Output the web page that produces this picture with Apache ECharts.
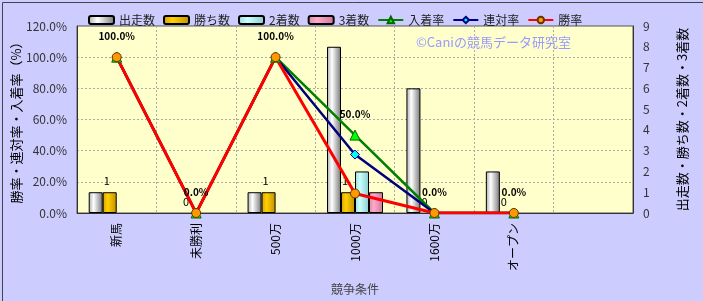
<!DOCTYPE html>
<html><head><meta charset="utf-8">
<script src="https://cdn.jsdelivr.net/npm/echarts@6/dist/echarts.min.js"></script>
<style>html,body{margin:0;padding:0;background:#ccccff;}#c{width:703px;height:301px;}</style>
</head><body><div id="c"></div>
<script>
const categories = ['新馬','未勝利','500万','1000万','1600万','オープン',''];
const starts = [1,0,1,8,6,2,null];
const wins = [1,0,1,1,0,0,null];
const seconds = [0,0,0,2,0,0,null];
const thirds = [0,0,0,1,0,0,null];
const placeRate = [100,0,100,50,0,0,null];
const rentaiRate = [100,0,100,37.5,0,0,null];
const winRate = [100,0,100,12.5,0,0,null];
const leftTicks = [0,20,40,60,80,100,120];
const rightTicks = [0,1,2,3,4,5,6,7,8,9];

const FONT = '"Noto Sans CJK JP", sans-serif';
function grad(edgeL, mid, edgeR){
  return new echarts.graphic.LinearGradient(0,0,1,0,[
    {offset:0,color:edgeL},{offset:0.35,color:mid},{offset:1,color:edgeR}]);
}
const hideZero = (arr)=>arr.map(v => v===0 ? {value:0, itemStyle:{borderWidth:0, opacity:0}} : v);
const chart = echarts.init(document.getElementById('c'), null, {renderer:'canvas'});
const barStyle = (c)=>({color:c, borderColor:'#000', borderWidth:1});
chart.setOption({
  animation:false,
  backgroundColor:'#ccccff',
  textStyle:{fontFamily:FONT},
  legend:{
    left:83, top:9, itemWidth:25, itemHeight:8, itemGap:8,
    textStyle:{fontSize:12, color:'#222', fontFamily:FONT},
    data:['出走数','勝ち数','2着数','3着数','入着率','連対率','勝率']
  },
  graphic:[
    {type:'text', left:416, top:36, style:{text:'©Caniの競馬データ研究室', fill:'#9999ff', font:'13px '+FONT}},
    {type:'rect', left:0, top:0, shape:{x:0,y:0,width:702,height:300}, style:{fill:'none', stroke:'#444', lineWidth:1}, silent:true}
  ],
  grid:{left:77, right:70, top:26, bottom:88, show:true, backgroundColor:'#ffffcc', borderColor:'#555', borderWidth:1,
        containLabel:false, outerBoundsMode:'none'},
  xAxis:{
    type:'category', data:categories,
    axisLine:{lineStyle:{color:'#333'}}, axisTick:{show:false},
    axisLabel:{rotate:90, fontSize:12, color:'#000', margin:10, fontFamily:FONT},
    splitLine:{show:true, lineStyle:{color:'#aaa', type:[2,2]}},
    name:'競争条件', nameLocation:'middle', nameGap:70, nameMoveOverlap:false,
    nameTextStyle:{fontSize:12, color:'#444', fontFamily:FONT}
  },
  yAxis:[
    {type:'value', min:0, max:120, interval:20, position:'left',
     axisLine:{show:true, lineStyle:{color:'#333'}}, axisTick:{show:false},
     axisLabel:{formatter:(v)=>v.toFixed(1)+'%', fontSize:12, color:'#333', margin:10},
     splitLine:{show:true, lineStyle:{color:'#aaa', type:[2,2]}},
     name:'勝率・連対率・入着率（%）', nameLocation:'middle', nameGap:54, nameRotate:90, nameMoveOverlap:false,
     nameTextStyle:{fontSize:13, color:'#000', fontFamily:FONT}
    },
    {type:'value', min:0, max:9, interval:1, position:'right',
     axisLine:{show:true, lineStyle:{color:'#333'}}, axisTick:{show:false},
     axisLabel:{fontSize:12, color:'#333', margin:10},
     splitLine:{show:false},
     name:'出走数・勝ち数・2着数・3着数', nameLocation:'middle', nameGap:43, nameRotate:90, nameMoveOverlap:false,
     nameTextStyle:{fontSize:13, color:'#000', fontFamily:FONT}
    }
  ],
  series:[
    {name:'出走数', type:'bar', yAxisIndex:1, data:hideZero(starts), barWidth:14, barGap:'0%',
     itemStyle:barStyle(grad('#aaaaaa','#ffffff','#777777'))},
    {name:'勝ち数', type:'bar', yAxisIndex:1, data:hideZero(wins), barWidth:14, barGap:'0%',
     itemStyle:barStyle(grad('#d4a000','#ffd000','#c09000')),
     label:{show:true, position:'top', fontSize:11, color:'#000', distance:6, offset:[-3,0], opacity:1}},
    {name:'2着数', type:'bar', yAxisIndex:1, data:hideZero(seconds), barWidth:14, barGap:'0%',
     itemStyle:barStyle(grad('#99dddd','#ccffff','#88cccc'))},
    {name:'3着数', type:'bar', yAxisIndex:1, data:hideZero(thirds), barWidth:14, barGap:'0%',
     itemStyle:barStyle(grad('#dd88aa','#ffaacc','#cc7799'))},
    {name:'入着率', type:'line', yAxisIndex:0, data:placeRate, symbol:'triangle', symbolSize:10,
     lineStyle:{color:'#008000', width:2.5}, itemStyle:{color:'#00ff00', borderColor:'#006600', borderWidth:1},
     label:{show:true, position:'top', distance:10, fontSize:10, fontWeight:'bold', color:'#000', formatter:(p)=>p.value.toFixed(1)+'%'}},
    {name:'連対率', type:'line', yAxisIndex:0, data:rentaiRate, symbol:'diamond', symbolSize:9,
     lineStyle:{color:'#000080', width:2.5}, itemStyle:{color:'#00ffff', borderColor:'#000080', borderWidth:1}},
    {name:'勝率', type:'line', yAxisIndex:0, data:winRate, symbol:'circle', symbolSize:9,
     lineStyle:{color:'#ff0000', width:3}, itemStyle:{color:'#ff9900', borderColor:'#663300', borderWidth:1}}
  ]
});
</script></body></html>
